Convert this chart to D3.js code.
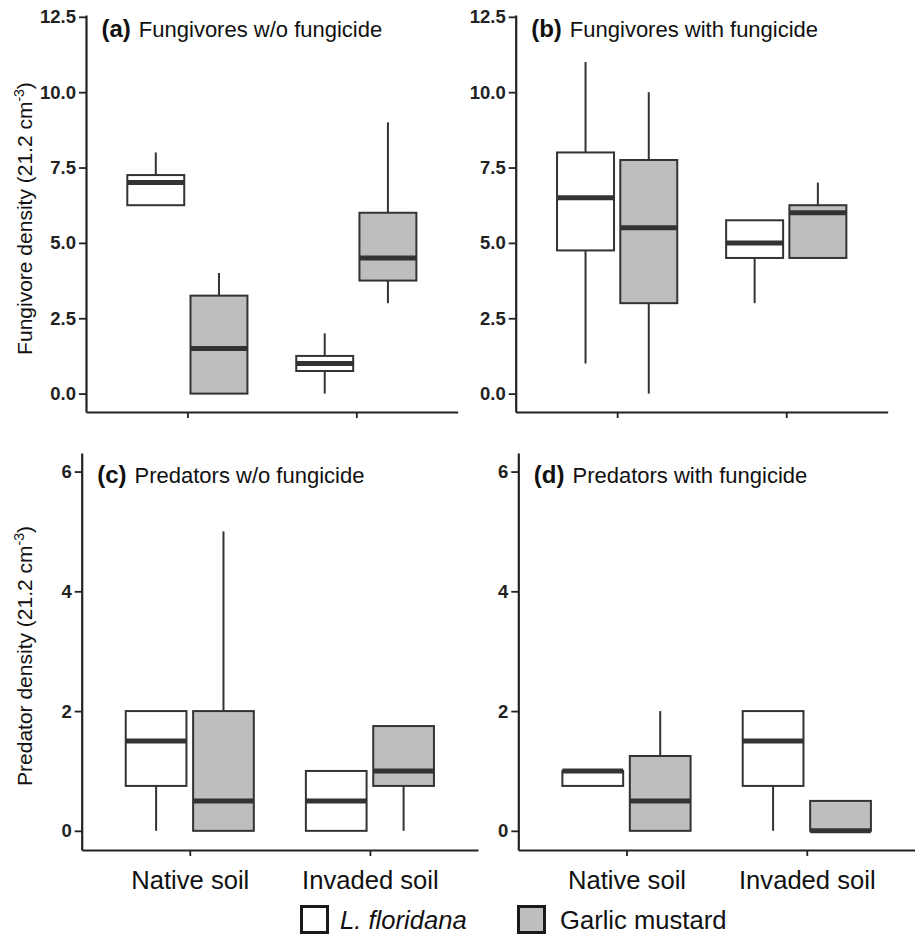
<!DOCTYPE html>
<html>
<head>
<meta charset="utf-8">
<script src="https://cdn.jsdelivr.net/npm/d3@7"></script>
<style>
  body { margin: 0; background: #fff; }
  svg { display: block; font-family: "Liberation Sans", Arial, sans-serif; }
</style>
</head>
<body>
<svg id="chart" width="915" height="935"></svg>
<script>
// categories
const soils = ["Native soil", "Invaded soil"];
const plants = ["L. floridana", "Garlic mustard"];

// box summaries [min, q1, median, q3, max], order: native LF, native GM, invaded LF, invaded GM
const fungNoFungicide = [[6.25, 6.25, 7, 7.25, 8], [0, 0, 1.5, 3.25, 4], [0, 0.75, 1, 1.25, 2], [3, 3.75, 4.5, 6, 9]];
const fungWithFungicide = [[1, 4.75, 6.5, 8, 11], [0, 3, 5.5, 7.75, 10], [3, 4.5, 5, 5.75, 5.75], [4.5, 4.5, 6, 6.25, 7]];
const predNoFungicide = [[0, 0.75, 1.5, 2, 2], [0, 0, 0.5, 2, 5], [0, 0, 0.5, 1, 1], [0, 0.75, 1, 1.75, 1.75]];
const predWithFungicide = [[0.75, 0.75, 1, 1, 1], [0, 0, 0.5, 1.25, 2], [0, 0.75, 1.5, 2, 2], [0, 0, 0, 0.5, 0.5]];

// tick labels
const fungTicks = [0, 2.5, 5, 7.5, 10, 12.5];
const predTicks = [0, 2, 4, 6];

const fills = { "L. floridana": "#ffffff", "Garlic mustard": "#bebebe" };
const ink = "#333";

const panels = [
  { tag: "(a)", title: "Fungivores w/o fungicide", data: fungNoFungicide, ticks: fungTicks, fmt: d3.format(".1f"),
    left: 86, right: 457.7, top: 15, bottom: 412, dom: [-0.61, 12.56], xlabels: false, titleY: 37 },
  { tag: "(b)", title: "Fungivores with fungicide", data: fungWithFungicide, ticks: fungTicks, fmt: d3.format(".1f"),
    left: 515.7, right: 887.7, top: 15, bottom: 412, dom: [-0.61, 12.56], xlabels: false, titleY: 37 },
  { tag: "(c)", title: "Predators w/o fungicide", data: predNoFungicide, ticks: predTicks, fmt: d3.format("d"),
    left: 81.7, right: 478, top: 453, bottom: 850, dom: [-0.32, 6.31], xlabels: true, titleY: 483 },
  { tag: "(d)", title: "Predators with fungicide", data: predWithFungicide, ticks: predTicks, fmt: d3.format("d"),
    left: 518.3, right: 915, top: 453, bottom: 850, dom: [-0.32, 6.31], xlabels: true, titleY: 483 }
];

const svg = d3.select("#chart");

panels.forEach(function(p) {
  const g = svg.append("g");
  const x = d3.scalePoint().domain(soils).range([p.left, p.right]).padding(0.6);
  const y = d3.scaleLinear().domain(p.dom).range([p.bottom, p.top]);
  const step = x.step();
  const dodge = d3.scalePoint().domain(plants).range([-0.187 * step, 0.187 * step]);
  const bw = 0.337 * step;

  // y axis
  const ya = g.append("g")
    .attr("transform", "translate(" + p.left + ",0)")
    .call(d3.axisLeft(y).tickValues(p.ticks).tickFormat(p.fmt).tickSize(7).tickSizeOuter(0).tickPadding(3));
  ya.select(".domain").attr("stroke", "#222").attr("stroke-width", 2.2);
  ya.selectAll(".tick line").attr("stroke", "#222").attr("stroke-width", 1.8);
  ya.selectAll(".tick text").attr("fill", "#222").style("font-size", "18.5px").style("font-weight", "bold");

  // x axis
  const xa = g.append("g")
    .attr("transform", "translate(0," + p.bottom + ")")
    .call(d3.axisBottom(x).tickSize(6).tickSizeOuter(0).tickPadding(15));
  xa.select(".domain").attr("stroke", "#222").attr("stroke-width", 2.2);
  xa.selectAll(".tick line").attr("stroke", "#222").attr("stroke-width", 1.8);
  xa.selectAll(".tick text").attr("fill", "#111").style("font-size", "25.6px")
    .text(function(d) { return p.xlabels ? d : ""; });

  // boxes
  const rows = [];
  soils.forEach(function(s, i) {
    plants.forEach(function(pl, j) {
      rows.push({ soil: s, plant: pl, v: p.data[i * plants.length + j] });
    });
  });

  const box = g.selectAll(".box").data(rows).enter().append("g")
    .attr("class", "box")
    .attr("transform", function(d) { return "translate(" + (x(d.soil) + dodge(d.plant)) + ",0)"; });

  // whiskers
  box.append("line")
    .attr("y1", function(d) { return y(d.v[4]); })
    .attr("y2", function(d) { return y(d.v[3]); })
    .attr("stroke", ink).attr("stroke-width", 2);
  box.append("line")
    .attr("y1", function(d) { return y(d.v[1]); })
    .attr("y2", function(d) { return y(d.v[0]); })
    .attr("stroke", ink).attr("stroke-width", 2);

  box.append("rect")
    .attr("x", -bw / 2)
    .attr("width", bw)
    .attr("y", function(d) { return y(d.v[3]); })
    .attr("height", function(d) { return y(d.v[1]) - y(d.v[3]); })
    .attr("fill", function(d) { return fills[d.plant]; })
    .attr("stroke", ink).attr("stroke-width", 2);

  box.append("line")
    .attr("x1", -bw / 2).attr("x2", bw / 2)
    .attr("y1", function(d) { return y(d.v[2]); })
    .attr("y2", function(d) { return y(d.v[2]); })
    .attr("stroke", ink).attr("stroke-width", 5);

  // panel title
  const t = g.append("text")
    .attr("x", p.left + 15.5)
    .attr("y", p.titleY)
    .attr("fill", "#111");
  t.append("tspan").style("font-weight", "bold").style("font-size", "24px").text(p.tag);
  t.append("tspan").attr("dx", 8).style("font-size", "22px").text(p.title);
});

// y axis titles
function yTitle(label, cy) {
  const t = svg.append("text")
    .attr("transform", "translate(32," + cy + ") rotate(-90)")
    .attr("text-anchor", "middle")
    .attr("fill", "#111")
    .style("font-size", "21px");
  t.append("tspan").text(label + " (21.2 cm");
  t.append("tspan").attr("dy", -8).style("font-size", "14px").text("-3");
  t.append("tspan").attr("dy", 8).text(")");
}
yTitle("Fungivore density", 218.5);
yTitle("Predator density", 656);

// legend
const legendX = d3.scaleOrdinal().domain(plants).range([300, 517]);
const lg = svg.selectAll(".legend").data(plants).enter().append("g")
  .attr("class", "legend")
  .attr("transform", function(d) { return "translate(" + legendX(d) + ",905)"; });
lg.append("rect")
  .attr("x", 1.5).attr("y", 1.5)
  .attr("width", 26).attr("height", 26)
  .attr("fill", function(d) { return fills[d]; })
  .attr("stroke", "#1a1a1a").attr("stroke-width", 3);
lg.append("text")
  .attr("x", function(d, i) { return i === 0 ? 40 : 43; })
  .attr("y", 24)
  .attr("fill", "#111")
  .style("font-size", "25.6px")
  .style("font-style", function(d, i) { return i === 0 ? "italic" : "normal"; })
  .text(function(d) { return d; });
</script>
</body>
</html>
